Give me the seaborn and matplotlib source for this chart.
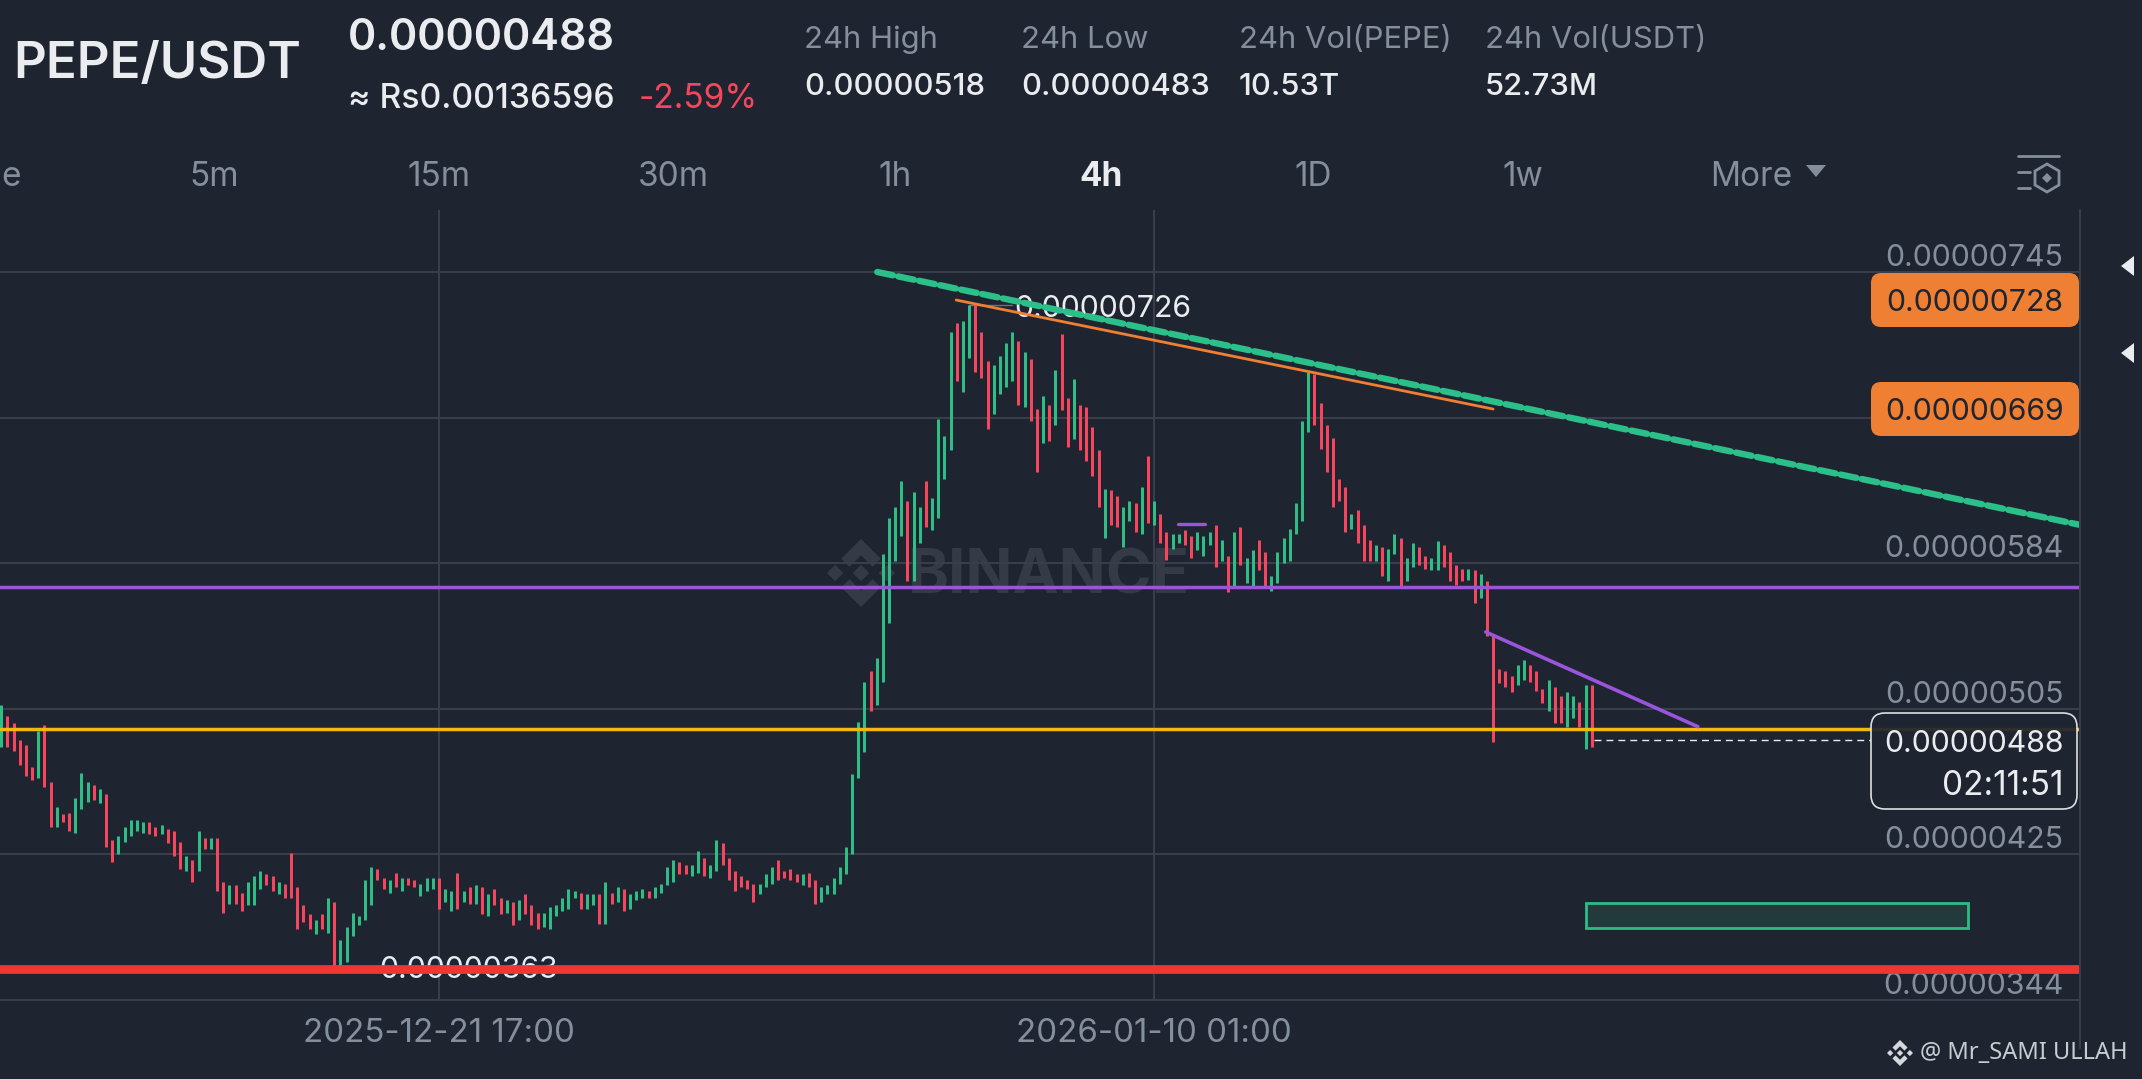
import matplotlib
matplotlib.use("Agg")
import matplotlib.pyplot as plt
from matplotlib.patches import FancyBboxPatch, Polygon, Rectangle
import pandas as pd
import seaborn as sns

# ---------- data (prices in units of 1e-8 USDT) ----------
HIGH = [
    507,501,497,488,485,473,493,496,465,451,447,448,456,470,465,463,461,458,433,435,
    440,444,444,443,443,440,441,439,438,432,424,422,438,434,434,434,410,408,408,404,
    410,413,416,414,413,410,409,426,407,397,392,389,392,401,399,378,385,393,391,411,
    418,417,412,411,415,412,412,411,409,412,412,412,406,405,415,405,407,408,407,403,
    406,401,400,399,400,403,397,393,393,396,397,401,406,405,404,403,403,403,410,404,
    407,406,403,405,406,405,407,409,418,422,421,419,419,427,423,419,433,431,423,416,
    413,411,409,409,414,418,422,416,417,414,414,415,411,407,408,412,418,429,469,498,
    520,526,533,590,610,616,630,619,624,616,630,621,664,655,712,717,718,727,727,712,
    696,694,699,706,712,707,701,697,670,677,672,691,711,676,686,672,671,660,647,626,
    625,622,616,619,618,627,644,619,612,602,601,601,603,600,602,600,602,606,598,589,
    602,605,588,592,598,591,578,591,599,604,618,663,690,689,673,661,654,631,627,612,
    614,606,598,595,594,593,601,599,588,596,594,589,588,597,595,591,584,582,582,581,
    579,575,545,527,526,523,529,532,529,526,516,521,517,512,514,512,509,518,518,
]
LOW = [
    484,484,482,474,468,466,467,462,440,440,443,438,437,450,454,455,453,429,421,425,
    432,435,438,437,436,435,436,431,424,417,416,410,416,428,428,405,393,398,398,394,
    397,397,406,408,405,403,401,401,384,388,384,381,384,382,363,363,366,380,386,389,
    397,411,406,404,407,405,408,407,402,405,406,395,399,394,395,399,398,398,392,391,
    397,392,393,386,389,392,386,384,385,384,391,394,395,401,395,395,397,387,387,398,
    399,394,395,400,401,401,401,404,408,410,414,414,413,415,413,412,416,419,411,405,
    407,406,399,403,407,409,411,412,411,410,408,407,398,399,403,403,409,414,425,467,
    481,504,507,520,552,586,600,575,575,596,605,603,610,631,647,685,679,698,690,687,
    659,667,678,682,685,672,671,663,635,651,652,661,669,649,653,647,641,633,616,599,
    606,605,594,608,602,601,607,606,596,587,593,596,595,588,592,589,595,583,586,569,
    572,584,574,572,581,572,570,574,585,586,601,608,657,661,648,635,616,619,602,604,
    596,586,586,586,578,575,590,572,575,583,584,582,581,581,583,575,573,575,576,563,
    566,545,487,519,517,514,518,521,520,515,508,504,497,497,495,500,495,483,484,
]
DIRECTION = (
    "GRRRRRGRRGRRGGGRGRRG" "GGGGRRGRRRGRGRGRRGRR" "GGGRRGRRRRRGRGRGGGGG"
    "GRRGRGRRGGGRGGRGRGRG" "RRGRGRRRGGGGGGRGGRGR" "GRGGGRGGGGRRGGRGGRRR"
    "RRRGGGRRRRGRRGGGGGGG" "GRGGGGGRGGRGGGGRGGRR" "RGGGGRGRRGRGRRGRRRRG"
    "RRGGRGRGRRGGRRGGGRGR" "GRGGRRGGGGGGGRRRRRRG" "RRRGRGGRGGRRGGRRRRGR"
    "GRRRRRGGRRRGRRGGRGR"
)
GRID_PRICES = [745, 665, 585, 505, 425, 345]
GRID_LABELS = ["0.00000745", "", "0.00000584", "0.00000505", "0.00000425", "0.00000344"]
TIME_CANDLES = [71, 187]
TIME_LABELS = ["2025-12-21 17:00", "2026-01-10 01:00"]
RED_LEVEL, YELLOW_LEVEL, PURPLE_LEVEL, LAST_PRICE = 362, 493.7, 572, 488
GREEN_TREND = ([142.1, 337.0], [745, 606.2])
ORANGE_TREND = ([154.9, 242.0], [729.6, 669.7])
PURPLE_TREND = ([240.8, 275.2], [547.2, 495.2])
PURPLE_SHORT = ([190.8, 195.2], [606.5, 606.5])
TARGET_ZONE = (257.0, 319.0, 384.5, 398.3)

BG, GRID, GRAY, WHITE = "#1f2530", "#3a3f4b", "#848e9c", "#eaecef"
UP, DOWN, ORANGE, PURPLE = "#2ebd85", "#f6465d", "#ef7f33", "#9a55dd"
MARK = "#343a46"

W, H = 2142, 1079
sns.set_theme(style="darkgrid", rc={
    "figure.facecolor": BG, "axes.facecolor": BG, "grid.color": GRID,
    "grid.linewidth": 1.4, "axes.edgecolor": BG,
})
plt.rcParams["font.family"] = ["Inter", "DejaVu Sans"]

fig = plt.figure(figsize=(W / 100, H / 100), dpi=100, facecolor=BG)
full = [0, 0, 1, 1]

# pixel canvases, behind and in front of the chart
back = fig.add_axes(full, zorder=0)
ui = fig.add_axes(full, zorder=2)
for a in (back, ui):
    a.set_xlim(0, W); a.set_ylim(H, 0); a.axis("off"); a.patch.set_alpha(0)


def logo(a, cx, cy, r, color):
    chev = [(-.58, -.42), (0, -1), (.58, -.42), (.34, -.18), (0, -.52), (-.34, -.18)]
    side = [(-1, 0), (-.76, .24), (-.52, 0), (-.76, -.24)]
    mid = [(0, -.24), (.24, 0), (0, .24), (-.24, 0)]
    shapes = [chev, [(x, -y) for x, y in chev], side, [(-x, y) for x, y in side], mid]
    for s in shapes:
        a.add_patch(Polygon([(cx + x * r, cy + y * r) for x, y in s], fc=color, ec="none"))


logo(back, 861, 573, 34, MARK)
back.text(908, 578, "BINANCE", fontsize=44.5, fontweight="bold", color=MARK, va="center", ha="left")

# chart axes
ax = fig.add_axes([0, (H - 1001) / H, 2080 / W, (1001 - 210) / H], zorder=1)
ax.patch.set_alpha(0)
ax.set_axisbelow(True)

candles = pd.DataFrame({"candle": range(len(HIGH)), "high": HIGH, "low": LOW,
                        "dir": list(DIRECTION)})
long_df = candles.melt(id_vars=["candle", "dir"], value_vars=["high", "low"], value_name="price")
sns.lineplot(data=long_df, x="candle", y="price", hue="dir", units="candle", estimator=None,
             sort=False, palette={"G": UP, "R": DOWN}, linewidth=2.16, legend=False,
             solid_capstyle="butt", ax=ax, zorder=3)

for cx, price, txt in [(164.5, 726, "0.00000726"), (61.4, 363, "0.00000363")]:
    ax.annotate(txt, (cx, price), xytext=(-0.5, -2), textcoords="offset points", color=WHITE,
                fontsize=21.8, va="center", ha="left", zorder=2.5)
ax.plot([157, 164], [727, 727], color="#6b717c", lw=1, zorder=2.4)

ax.axhline(YELLOW_LEVEL, color="#f0b90b", lw=2.5, zorder=4)
ax.axhline(PURPLE_LEVEL, color=PURPLE, lw=2.5, zorder=4)
ax.axhline(RED_LEVEL, color="#f03535", lw=6.3, zorder=4)
ax.plot(*GREEN_TREND, color="#2bbf8a", lw=4.6, dashes=(2.5, 0.85), dash_capstyle="round", zorder=5)
ax.plot(*ORANGE_TREND, color=ORANGE, lw=2.0, zorder=5)
ax.plot(*PURPLE_TREND, color=PURPLE, lw=2.6, zorder=5)
ax.plot(*PURPLE_SHORT, color=PURPLE, lw=2.4, zorder=5)
ax.plot([258.3, 303.3], [LAST_PRICE, LAST_PRICE], color=WHITE, lw=1, dashes=(5, 3.6), zorder=5)
x0, x1, y0, y1 = TARGET_ZONE
ax.add_patch(Rectangle((x0, y0), x1 - x0, y1 - y0, fc="#233a3d", ec=UP, lw=2.0, zorder=4))

ax.set_xlim(-0.211, 337.2)
ax.set_ylim(344.45, 779.07)
ax.set_xticks(TIME_CANDLES, TIME_LABELS)
ax.set_yticks(GRID_PRICES, GRID_LABELS)
ax.set_xlabel(""); ax.set_ylabel("")
for s in ax.spines.values():
    s.set_visible(False)
ax.tick_params(axis="x", length=0, pad=12, labelsize=23.8, labelcolor=GRAY)
ax.tick_params(axis="y", length=0, labelleft=False, labelright=True, pad=-12.0,
               labelsize=21.8, labelcolor=GRAY)
for t in ax.yaxis.get_major_ticks():
    t.label2.set_ha("right"); t.label2.set_va("bottom")


def T(x, y, s, size, color=WHITE, ha="left", weight="normal", family=None):
    kw = {"family": family} if family else {}
    ui.text(x, y, s, fontsize=size, color=color, ha=ha, va="center", fontweight=weight, **kw)


# header
T(13, 65, "PEPE/USDT", 36.7, weight="semibold")
T(348, 39, "0.00000488", 31, weight="semibold")
T(348, 99, "≈ Rs0.00136596", 24.3, weight="medium")
T(639, 99, "-2.59%", 24, color=DOWN)
for x, head, val in [(804, "24h High", "0.00000518"), (1021, "24h Low", "0.00000483"),
                     (1239, "24h Vol(PEPE)", "10.53T"), (1485, "24h Vol(USDT)", "52.73M")]:
    T(x, 40, head, 22.3, color=GRAY)
    T(x, 87, val, 22.3, weight="medium")
for x, tab in [(214, "5m"), (439, "15m"), (673, "30m"), (895, "1h"), (1313, "1D"), (1523, "1w"), (1751, "More")]:
    T(x, 177, tab, 24, color=GRAY, ha="center")
T(22, 177, "Time", 24, color=GRAY, ha="right")
T(1101, 177, "4h", 24, ha="center", weight="bold")
ui.add_patch(Polygon([(1806, 165), (1826, 165), (1816, 177)], fc=GRAY, ec="none"))

# settings icon
for x, y1_, y in [(2018, 2059, 156), (2018, 2030, 172), (2018, 2030, 188)]:
    ui.plot([x, y1_], [y, y], color=GRAY, lw=2, solid_capstyle="round")
ui.add_patch(Polygon([(2047, 164), (2059, 171), (2059, 185), (2047, 192), (2035, 185), (2035, 171)],
                     fc="none", ec=GRAY, lw=2))
ui.add_patch(Polygon([(2047, 173), (2052, 178), (2047, 183), (2042, 178)], fc=GRAY, ec="none"))

# right-hand border and side arrows
ui.plot([2080, 2080], [210, 1048], color=GRID, lw=1.4)
for cy in (266, 353):
    ui.add_patch(Polygon([(2121, cy), (2134, cy - 10), (2134, cy + 10)], fc=WHITE, ec="none"))

# price labels
for top, txt in [(273, "0.00000728"), (382, "0.00000669")]:
    ui.add_patch(FancyBboxPatch((1871 + 10, top + 10), 208 - 20, 54 - 20,
                                boxstyle="round,pad=10,rounding_size=10", fc=ORANGE, ec="none"))
    T(2063.5, top + 30, txt, 21.8, color="#1e2530", ha="right")
ui.add_patch(FancyBboxPatch((1871 + 14, 713 + 14), 206 - 28, 96 - 28,
                            boxstyle="round,pad=14,rounding_size=14", fc=BG, ec=WHITE, lw=1.2, alpha=0.93))
T(2063.5, 744, "0.00000488", 21.8, ha="right")
T(2063.5, 786, "02:11:51", 24, ha="right")

# credit
logo(ui, 1900, 1053, 13, "#d5d8dd")
T(1920, 1053, "@ Mr_SAMI ULLAH", 17, color="#c8ccd2", family="Noto Sans")

fig.savefig("out.png", dpi=100, facecolor=BG)
